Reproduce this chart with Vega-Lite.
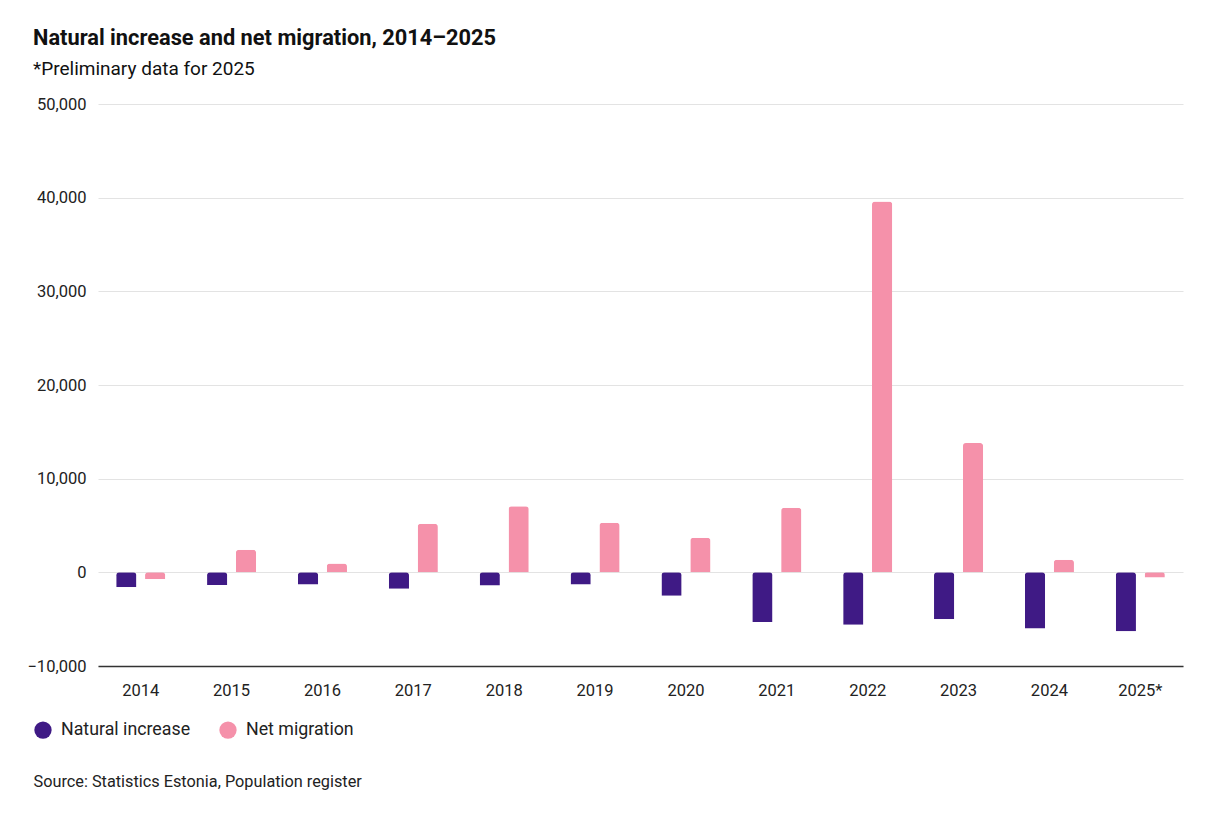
{
  "$schema": "https://vega.github.io/schema/vega-lite/v6.json",
  "width": 1085,
  "height": 562,
  "autosize": {"type": "none"},
  "padding": {"left": 98, "top": 104, "right": 32, "bottom": 149},
  "background": "#ffffff",
  "title": {
    "text": "Natural increase and net migration, 2014–2025",
    "subtitle": "*Preliminary data for 2025",
    "anchor": "start",
    "frame": "group",
    "dx": -65,
    "offset": 17,
    "font": "Roboto",
    "fontSize": 21.8,
    "fontWeight": "bold",
    "color": "#111111",
    "subtitleFont": "Roboto",
    "subtitleFontSize": 19,
    "subtitleColor": "#111111",
    "subtitlePadding": 10
  },
  "data": {
    "values": [
      {"year": "2014", "series": "Natural increase", "value": -1600},
      {"year": "2014", "series": "Net migration", "value": -730},
      {"year": "2015", "series": "Natural increase", "value": -1350},
      {"year": "2015", "series": "Net migration", "value": 2400},
      {"year": "2016", "series": "Natural increase", "value": -1300},
      {"year": "2016", "series": "Net migration", "value": 950},
      {"year": "2017", "series": "Natural increase", "value": -1750},
      {"year": "2017", "series": "Net migration", "value": 5200},
      {"year": "2018", "series": "Natural increase", "value": -1400},
      {"year": "2018", "series": "Net migration", "value": 7050},
      {"year": "2019", "series": "Natural increase", "value": -1300},
      {"year": "2019", "series": "Net migration", "value": 5300},
      {"year": "2020", "series": "Natural increase", "value": -2500},
      {"year": "2020", "series": "Net migration", "value": 3700},
      {"year": "2021", "series": "Natural increase", "value": -5300},
      {"year": "2021", "series": "Net migration", "value": 6900},
      {"year": "2022", "series": "Natural increase", "value": -5600},
      {"year": "2022", "series": "Net migration", "value": 39600},
      {"year": "2023", "series": "Natural increase", "value": -5000},
      {"year": "2023", "series": "Net migration", "value": 13800},
      {"year": "2024", "series": "Natural increase", "value": -6000},
      {"year": "2024", "series": "Net migration", "value": 1350},
      {"year": "2025*", "series": "Natural increase", "value": -6300},
      {"year": "2025*", "series": "Net migration", "value": -550}
    ]
  },
  "mark": {"type": "bar", "cornerRadiusEnd": 3},
  "encoding": {
    "x": {
      "field": "year",
      "type": "nominal",
      "sort": null,
      "scale": {"paddingInner": 0.46},
      "axis": {
        "title": "Source: Statistics Estonia, Population register",
        "titleFont": "Roboto",
        "titleFontSize": 16.3,
        "titleFontWeight": "normal",
        "titleColor": "#222222",
        "titleAlign": "left",
        "titleBaseline": "alphabetic",
        "titleX": -65,
        "titleY": 120,
        "labelAngle": 0,
        "labelFont": "Roboto",
        "labelFontSize": 16.5,
        "labelColor": "#222222",
        "labelPadding": 16,
        "ticks": false,
        "domainColor": "#333333",
        "domainWidth": 1.5,
        "grid": false
      }
    },
    "xOffset": {
      "field": "series",
      "type": "nominal",
      "scale": {"paddingInner": 0.3}
    },
    "y": {
      "field": "value",
      "type": "quantitative",
      "scale": {"domain": [-10000, 50000], "nice": false},
      "axis": {
        "title": null,
        "values": [-10000, 0, 10000, 20000, 30000, 40000, 50000],
        "format": ",d",
        "labelFont": "Roboto",
        "labelFontSize": 16.5,
        "labelColor": "#222222",
        "labelPadding": 12,
        "ticks": false,
        "domain": false,
        "gridColor": "#e3e3e3",
        "gridWidth": 1
      }
    },
    "color": {
      "field": "series",
      "type": "nominal",
      "scale": {
        "domain": ["Natural increase", "Net migration"],
        "range": ["#3f1a85", "#f591aa"]
      },
      "legend": {
        "title": null,
        "orient": "none",
        "direction": "horizontal",
        "legendX": -64,
        "legendY": 617,
        "symbolType": "circle",
        "symbolSize": 300,
        "symbolStrokeWidth": 0,
        "labelFont": "Roboto",
        "labelFontSize": 17.8,
        "labelColor": "#222222",
        "labelOffset": 9,
        "columnPadding": 28
      }
    }
  },
  "config": {
    "view": {"stroke": null},
    "font": "Roboto"
  }
}
